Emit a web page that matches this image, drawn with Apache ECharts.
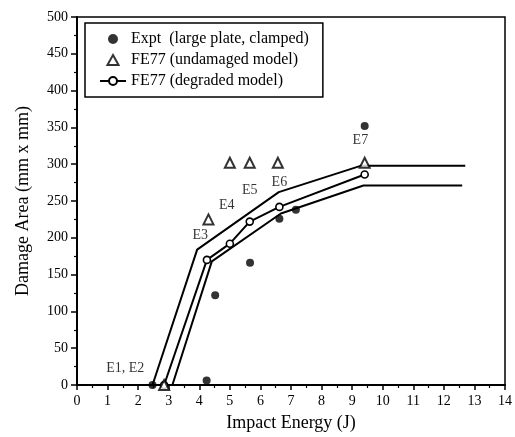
<!DOCTYPE html>
<html>
<head>
<meta charset="utf-8">
<script src="https://cdn.jsdelivr.net/npm/echarts@6/dist/echarts.min.js"></script>
<style>html,body{margin:0;padding:0;background:#fff}#c{width:515px;height:437px}</style>
</head>
<body>
<div id="c"></div>
<script>
// Experimental points (large plate, clamped)
var exptX = [2.47, 4.24, 4.52, 5.66, 6.62, 7.16, 9.41];
var exptY = [0, 6, 122, 166, 226, 238, 352];
// FE77 undamaged model
var undamagedX = [2.85, 4.30, 5.0, 5.65, 6.57, 9.41];
var undamagedY = [0, 225, 302, 302, 302, 302];
// FE77 degraded model
var degradedX = [2.85, 4.25, 5.0, 5.65, 6.62, 9.41];
var degradedY = [0, 170, 192, 222, 242, 286];
// upper and lower bounding curves
var upperX = [2.47, 3.93, 6.6, 9.3, 12.7];
var upperY = [0, 184, 262, 298, 298];
var lowerX = [3.12, 4.41, 6.67, 9.37, 12.6];
var lowerY = [0, 168, 233, 271, 271];
// annotation labels
var annNames = ['E1, E2', 'E3', 'E4', 'E5', 'E6', 'E7'];
var annX = [1.58, 4.03, 4.9, 5.65, 6.62, 9.27];
var annY = [22, 204, 244, 265, 276, 332];

function zip(a, b) { return a.map(function (v, i) { return [v, b[i]]; }); }

var font = "'Liberation Serif', 'DejaVu Serif', serif";
var chart = echarts.init(document.getElementById('c'), null, { renderer: 'canvas' });
chart.setOption({
  animation: false,
  backgroundColor: '#fff',
  textStyle: { fontFamily: font, color: '#000' },
  grid: { left: 77, right: 3, top: 17, bottom: 49, show: true, borderColor: '#000', borderWidth: 1.5 },
  legend: {
    orient: 'vertical', left: 85, top: 23,
    borderColor: '#000', borderWidth: 1.5,
    padding: [8, 14, 8, 14],
    itemGap: 5, itemWidth: 26, itemHeight: 10,
    symbolKeepAspect: true,
    textStyle: { fontFamily: font, fontSize: 16, color: '#000' },
    data: [
      { name: 'Expt  (large plate, clamped)' },
      { name: 'FE77 (undamaged model)', icon: 'path://M5,0 L10,9 L0,9 Z' },
      { name: 'FE77 (degraded model)' }
    ]
  },
  xAxis: {
    type: 'value', min: 0, max: 14, interval: 1,
    name: 'Impact Energy (J)', nameLocation: 'middle', nameGap: 29,
    nameTextStyle: { fontFamily: font, fontSize: 18, color: '#000' },
    axisLine: { lineStyle: { color: '#000', width: 2 } },
    axisTick: { length: 5, lineStyle: { color: '#000', width: 1.5 } },
    minorTick: { show: true, splitNumber: 2, length: 3, lineStyle: { color: '#000', width: 1.2 } },
    axisLabel: { fontFamily: font, fontSize: 14, color: '#000', margin: 9 },
    splitLine: { show: false }
  },
  yAxis: {
    type: 'value', min: 0, max: 500, interval: 50,
    name: 'Damage Area (mm x mm)', nameLocation: 'middle', nameGap: 45,
    nameTextStyle: { fontFamily: font, fontSize: 18, color: '#000' },
    axisLine: { lineStyle: { color: '#000', width: 2 } },
    axisTick: { length: 6, lineStyle: { color: '#000', width: 1.5 } },
    minorTick: { show: true, splitNumber: 2, length: 3, lineStyle: { color: '#000', width: 1.2 } },
    axisLabel: { fontFamily: font, fontSize: 14, color: '#000', margin: 9 },
    splitLine: { show: false }
  },
  series: [
    {
      name: 'upper', type: 'line', data: zip(upperX, upperY), symbol: 'none',
      lineStyle: { color: '#000', width: 2 }, z: 2
    },
    {
      name: 'lower', type: 'line', data: zip(lowerX, lowerY), symbol: 'none',
      lineStyle: { color: '#000', width: 2 }, z: 2
    },
    {
      name: 'FE77 (degraded model)', type: 'line', data: zip(degradedX, degradedY),
      symbol: 'circle', symbolSize: 7, showSymbol: true,
      itemStyle: { color: '#fff', borderColor: '#000', borderWidth: 1.6 },
      lineStyle: { color: '#000', width: 2 }, z: 3
    },
    {
      name: 'FE77 (undamaged model)', type: 'scatter', data: zip(undamagedX, undamagedY),
      symbol: 'triangle', symbolSize: [10, 10],
      itemStyle: { color: '#fff', borderColor: '#000', borderWidth: 2 }, z: 4
    },
    {
      name: 'Expt  (large plate, clamped)', type: 'scatter', data: zip(exptX, exptY),
      symbol: 'circle', symbolSize: 8,
      itemStyle: { color: '#000' }, z: 5
    },
    {
      name: 'labels', type: 'scatter', symbolSize: 0, silent: true,
      data: annNames.map(function (n, i) { return { name: n, value: [annX[i], annY[i]] }; }),
      label: { show: true, position: 'inside', formatter: '{b}', fontFamily: font, fontSize: 14, color: '#000' },
      z: 6
    }
  ]
});
</script>
</body>
</html>
